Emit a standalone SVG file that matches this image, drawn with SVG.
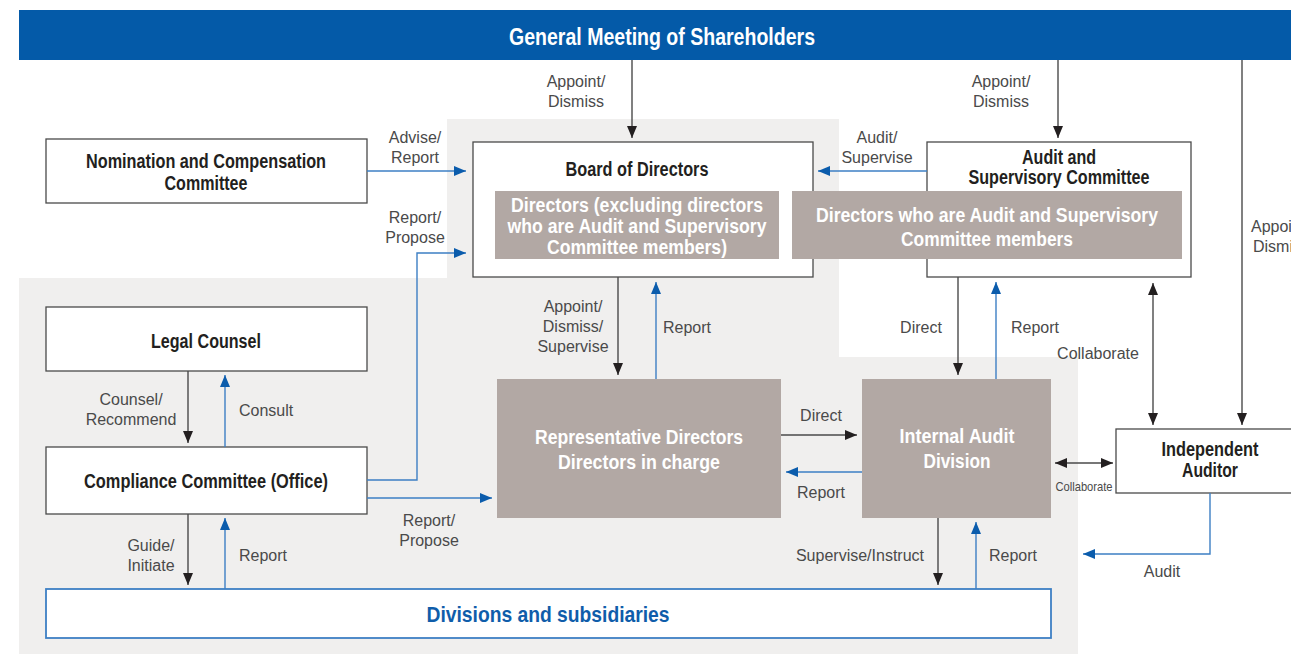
<svg xmlns="http://www.w3.org/2000/svg" width="1291" height="654" viewBox="0 0 1291 654">
  <style>
    .node { fill: #ffffff; stroke: #4a4a4a; stroke-width: 1.3; }
    .inner { fill: #b2a8a4; stroke: none; }
    .title { font-family: "Liberation Sans", Arial, sans-serif; font-weight: bold; font-size: 19.5px; fill: #231f20; text-anchor: middle; }
    .wtitle { font-family: "Liberation Sans", Arial, sans-serif; font-weight: bold; font-size: 19.5px; fill: #ffffff; text-anchor: middle; }
    .lbl { font-family: "Liberation Sans", Arial, sans-serif; font-size: 16px; fill: #4a4a4a; }
    .mid { text-anchor: middle; }
    .end { text-anchor: end; }
    .k { stroke: #4a4a4a; stroke-width: 1.4; fill: none; marker-end: url(#ak); }
    .b { stroke: #3d7fc4; stroke-width: 1.4; fill: none; marker-end: url(#ab); }
  </style>
  <defs>
    <marker id="ak" viewBox="0 0 12 10" refX="12" refY="5" markerWidth="12" markerHeight="10" markerUnits="userSpaceOnUse" orient="auto-start-reverse">
      <path d="M0,0 L12,5 L0,10 z" fill="#231f20"/>
    </marker>
    <marker id="ab" viewBox="0 0 12 10" refX="12" refY="5" markerWidth="12" markerHeight="10" markerUnits="userSpaceOnUse" orient="auto-start-reverse">
      <path d="M0,0 L12,5 L0,10 z" fill="#0b5cac"/>
    </marker>
  </defs>

  <!-- background panel behind the executive side -->
  <path d="M447,119 H839 V357 H1078 V654 H19 V278 H447 Z" fill="#f0efee"/>

  <!-- shareholders banner -->
  <g id="general-meeting">
    <rect x="19" y="10" width="1272" height="50" fill="#045aa8"/>
    <text x="662" y="45" font-family="Liberation Sans, Arial, sans-serif" font-weight="bold" font-size="23" fill="#ffffff" text-anchor="middle" textLength="306" lengthAdjust="spacingAndGlyphs">General Meeting of Shareholders</text>
  </g>

  <g id="nomination-committee">
    <rect class="node" x="46" y="139" width="321" height="64"/>
    <text class="title" x="206" y="168" textLength="240" lengthAdjust="spacingAndGlyphs">Nomination and Compensation</text>
    <text class="title" x="206" y="190" textLength="83" lengthAdjust="spacingAndGlyphs">Committee</text>
  </g>

  <g id="board-of-directors">
    <rect class="node" x="473" y="142" width="340" height="135"/>
    <text class="title" x="637" y="176" textLength="143" lengthAdjust="spacingAndGlyphs">Board of Directors</text>
    <rect class="inner" x="495" y="191" width="284" height="68"/>
    <text class="wtitle" x="637" y="212" textLength="252" lengthAdjust="spacingAndGlyphs">Directors (excluding directors</text>
    <text class="wtitle" x="637" y="233" textLength="259" lengthAdjust="spacingAndGlyphs">who are Audit and Supervisory</text>
    <text class="wtitle" x="637" y="254" textLength="180" lengthAdjust="spacingAndGlyphs">Committee members)</text>
  </g>

  <g id="audit-supervisory-committee">
    <rect class="node" x="927" y="142" width="264" height="135"/>
    <text class="title" x="1059" y="164" textLength="74" lengthAdjust="spacingAndGlyphs">Audit and</text>
    <text class="title" x="1059" y="184" textLength="181" lengthAdjust="spacingAndGlyphs">Supervisory Committee</text>
    <rect class="inner" x="792" y="191" width="390" height="68"/>
    <text class="wtitle" x="987" y="222" textLength="342" lengthAdjust="spacingAndGlyphs">Directors who are Audit and Supervisory</text>
    <text class="wtitle" x="987" y="246" textLength="172" lengthAdjust="spacingAndGlyphs">Committee members</text>
  </g>

  <g id="legal-counsel">
    <rect class="node" x="46" y="307" width="321" height="64"/>
    <text class="title" x="206" y="348" textLength="110" lengthAdjust="spacingAndGlyphs">Legal Counsel</text>
  </g>

  <g id="compliance-committee">
    <rect class="node" x="46" y="447" width="321" height="67"/>
    <text class="title" x="206" y="488" textLength="244" lengthAdjust="spacingAndGlyphs">Compliance Committee (Office)</text>
  </g>

  <g id="representative-directors">
    <rect class="inner" x="497" y="379" width="284" height="139"/>
    <text class="wtitle" x="639" y="444" textLength="208" lengthAdjust="spacingAndGlyphs">Representative Directors</text>
    <text class="wtitle" x="639" y="469" textLength="162" lengthAdjust="spacingAndGlyphs">Directors in charge</text>
  </g>

  <g id="internal-audit">
    <rect class="inner" x="862" y="379" width="189" height="139"/>
    <text class="wtitle" x="957" y="443" textLength="115" lengthAdjust="spacingAndGlyphs">Internal Audit</text>
    <text class="wtitle" x="957" y="468" textLength="67" lengthAdjust="spacingAndGlyphs">Division</text>
  </g>

  <g id="independent-auditor">
    <rect class="node" x="1116" y="429" width="185" height="64"/>
    <text class="title" x="1210" y="456" textLength="97" lengthAdjust="spacingAndGlyphs">Independent</text>
    <text class="title" x="1210" y="477" textLength="56" lengthAdjust="spacingAndGlyphs">Auditor</text>
  </g>

  <g id="divisions">
    <rect x="46" y="589" width="1005" height="49" fill="#ffffff" stroke="#3d7fc4" stroke-width="1.8"/>
    <text x="548" y="622" font-family="Liberation Sans, Arial, sans-serif" font-weight="bold" font-size="22" fill="#0f5daa" text-anchor="middle" textLength="243" lengthAdjust="spacingAndGlyphs">Divisions and subsidiaries</text>
  </g>

  <g id="connectors">
    <!-- from shareholders -->
    <line class="k" x1="632" y1="60" x2="632" y2="138"/>
    <line class="k" x1="1058" y1="60" x2="1058" y2="138"/>
    <line class="k" x1="1242" y1="60" x2="1242" y2="425"/>

    <!-- into the board -->
    <line class="b" x1="367" y1="171" x2="466" y2="171"/>
    <polyline class="b" points="367,480 417,480 417,253 466,253"/>
    <line class="b" x1="927" y1="171" x2="818" y2="171"/>

    <!-- board and representative directors -->
    <line class="k" x1="618" y1="277" x2="618" y2="375"/>
    <line class="b" x1="656" y1="379" x2="656" y2="282"/>

    <!-- audit committee and internal audit -->
    <line class="k" x1="958" y1="277" x2="958" y2="375"/>
    <line class="b" x1="996" y1="379" x2="996" y2="282"/>
    <line class="k" x1="1153" y1="283" x2="1153" y2="425" marker-start="url(#ak)"/>

    <!-- representative directors and internal audit -->
    <line class="k" x1="781" y1="435" x2="857" y2="435"/>
    <line class="b" x1="862" y1="472" x2="786" y2="472"/>
    <line class="k" x1="1055" y1="463" x2="1113" y2="463" marker-start="url(#ak)"/>
    <polyline class="b" points="1210,493 1210,554 1083,554"/>

    <!-- compliance to representative directors -->
    <line class="b" x1="367" y1="498" x2="492" y2="498"/>

    <!-- internal audit and divisions -->
    <line class="k" x1="938" y1="518" x2="938" y2="585"/>
    <line class="b" x1="976" y1="589" x2="976" y2="522"/>

    <!-- legal, compliance, divisions -->
    <line class="k" x1="188" y1="371" x2="188" y2="443"/>
    <line class="b" x1="225" y1="447" x2="225" y2="375"/>
    <line class="k" x1="188" y1="514" x2="188" y2="585"/>
    <line class="b" x1="225" y1="589" x2="225" y2="518"/>
  </g>

  <g id="labels">
    <text class="lbl mid" x="576" y="87">Appoint/</text>
    <text class="lbl mid" x="576" y="107">Dismiss</text>
    <text class="lbl mid" x="1001" y="87">Appoint/</text>
    <text class="lbl mid" x="1001" y="107">Dismiss</text>
    <text class="lbl" x="1251" y="232">Appoint/</text>
    <text class="lbl" x="1253" y="252">Dismiss</text>

    <text class="lbl mid" x="415" y="143">Advise/</text>
    <text class="lbl mid" x="415" y="163">Report</text>
    <text class="lbl mid" x="415" y="223">Report/</text>
    <text class="lbl mid" x="415" y="243">Propose</text>
    <text class="lbl mid" x="877" y="143">Audit/</text>
    <text class="lbl mid" x="877" y="163">Supervise</text>

    <text class="lbl mid" x="573" y="312">Appoint/</text>
    <text class="lbl mid" x="573" y="332">Dismiss/</text>
    <text class="lbl mid" x="573" y="352">Supervise</text>
    <text class="lbl" x="663" y="333">Report</text>

    <text class="lbl mid" x="921" y="333">Direct</text>
    <text class="lbl" x="1011" y="333">Report</text>
    <text class="lbl mid" x="1098" y="359">Collaborate</text>

    <text class="lbl mid" x="821" y="421">Direct</text>
    <text class="lbl mid" x="821" y="498">Report</text>
    <text x="1084" y="491" font-family="Liberation Sans, Arial, sans-serif" font-size="13" fill="#4a4a4a" text-anchor="middle" textLength="57" lengthAdjust="spacingAndGlyphs">Collaborate</text>
    <text class="lbl mid" x="1162" y="577">Audit</text>

    <text class="lbl mid" x="429" y="526">Report/</text>
    <text class="lbl mid" x="429" y="546">Propose</text>

    <text class="lbl end" x="924" y="561">Supervise/Instruct</text>
    <text class="lbl" x="989" y="561">Report</text>

    <text class="lbl mid" x="131" y="405">Counsel/</text>
    <text class="lbl mid" x="131" y="425">Recommend</text>
    <text class="lbl" x="239" y="416">Consult</text>
    <text class="lbl mid" x="151" y="551">Guide/</text>
    <text class="lbl mid" x="151" y="571">Initiate</text>
    <text class="lbl" x="239" y="561">Report</text>
  </g>
</svg>
